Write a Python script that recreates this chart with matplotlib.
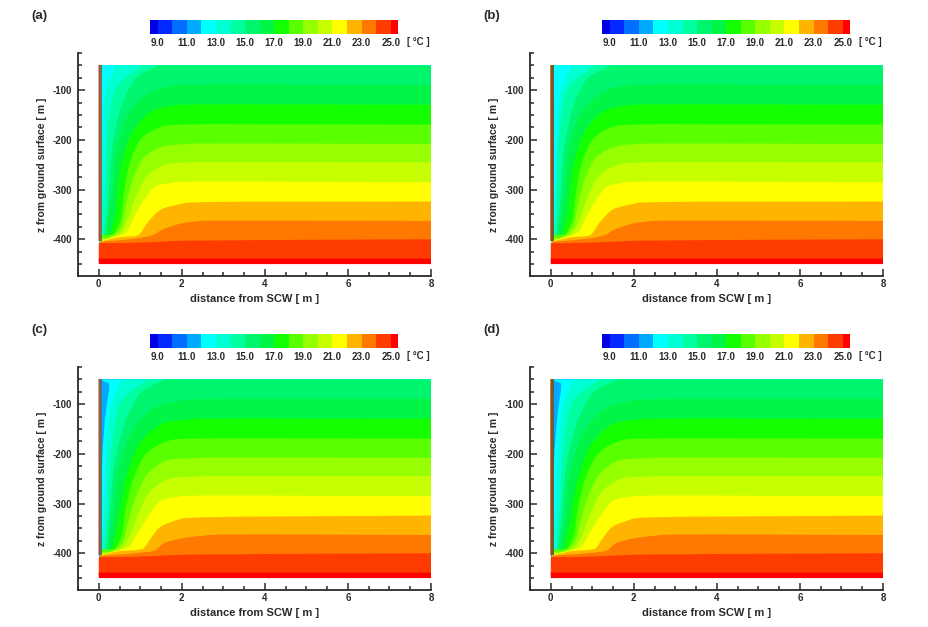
import math
import matplotlib
matplotlib.use("Agg")
import matplotlib.pyplot as plt
from matplotlib.colors import ListedColormap, BoundaryNorm
from matplotlib.patches import PathPatch
from matplotlib.path import Path
from matplotlib.ticker import MultipleLocator

plt.rcParams['font.family'] = ['Liberation Sans', 'DejaVu Sans']
plt.rcParams['font.weight'] = 'bold'
plt.rcParams['axes.unicode_minus'] = False

W, H = 929, 627
panel_labels = ['(a)', '(b)', '(c)', '(d)']
xlabel = 'distance from SCW [ m ]'
ylabel = 'z from ground surface [ m ]'
unit_label = '[ °C ]'
cbar_ticks = [9, 11, 13, 15, 17, 19, 21, 23, 25]
cbar_edges = [8.47, 9, 10, 11, 12, 13, 14, 15, 16, 17, 18, 19, 20, 21, 22, 23, 24, 25, 25.5]
band_colors = ['#0000e6', '#0028ff', '#006eff', '#00aaff', '#00ffff', '#00ffd2',
               '#00ffa0', '#00f56e', '#00f546', '#14ff00', '#5aff00', '#96ff00',
               '#c8ff00', '#ffff00', '#ffb400', '#ff7800', '#ff3c00', '#ff0000']
level_temps = [9, 10, 11, 12, 13, 14, 15, 16, 17, 18, 19, 20, 21, 22, 23, 24, 25]

# contours as (distance, depth)
common = {
    24: [(8, -400), (2, -403), (.88, -407), (0, -408)],
    25: [(8, -439), (0, -439)],
}
group_ab = {
    14: [(1.04, -50), (.42, -95), (.22, -183), (.16, -304), (.09, -398)],
    15: [(1.44, -50), (.9, -75), (.56, -129), (.32, -216), (.22, -337), (.12, -400)],
    16: [(8, -89), (1.84, -90), (1.28, -102), (.76, -142), (.44, -216), (.3, -317), (.18, -398)],
    17: [(8, -129), (1.84, -130), (1.28, -142), (.82, -183), (.54, -250), (.4, -351), (.26, -394)],
    18: [(8, -169), (2, -169), (1.52, -173), (1.04, -196), (.76, -243), (.6, -310), (.52, -364), (.36, -391)],
    19: [(8, -208), (2.08, -208), (1.52, -214), (1.08, -236), (.8, -284), (.64, -337), (.52, -378), (.24, -398)],
    20: [(8, -245), (2.24, -245), (1.6, -250), (1.16, -273), (.88, -317), (.68, -364), (.52, -388), (.2, -400)],
    21: [(8, -285), (1.84, -285), (1.36, -294), (1.12, -317), (.84, -357), (.68, -384), (.07, -403)],
    22: [(8, -324), (2.08, -327), (1.48, -341), (1.16, -368), (.96, -391), (.48, -396), (.07, -404)],
    23: [(8, -363), (2.48, -363), (2, -368), (1.52, -381), (1.32, -391), (.96, -398), (.07, -405)],
}
group_cd = {
    14: [(1.2, -50), (.56, -90), (.32, -180), (.22, -300), (.13, -398)],
    15: [(1.6, -50), (1.04, -75), (.66, -130), (.38, -220), (.25, -340), (.16, -400)],
    16: [(8, -89), (2.1, -91), (1.4, -105), (.86, -145), (.5, -225), (.34, -325), (.22, -398)],
    17: [(8, -129), (2.2, -130), (1.5, -140), (.98, -180), (.64, -255), (.44, -350), (.3, -396)],
    18: [(8, -169), (2.4, -169), (1.7, -173), (1.16, -198), (.84, -248), (.64, -315), (.55, -366), (.4, -392)],
    19: [(8, -208), (2.4, -208), (1.6, -214), (1.2, -238), (.9, -285), (.7, -340), (.56, -380), (.28, -398)],
    20: [(8, -245), (2.5, -245), (1.7, -250), (1.24, -275), (.96, -320), (.74, -366), (.58, -388), (.2, -400)],
    21: [(8, -285), (2, -285), (1.5, -294), (1.24, -320), (.92, -362), (.74, -386), (.07, -403)],
    22: [(8, -324), (2, -330), (1.48, -347), (1.24, -371), (1.08, -390), (.48, -396), (.07, -404)],
    23: [(8, -363), (2.7, -363), (2, -370), (1.56, -380), (1.36, -394), (1, -399), (.07, -405)],
}
cold_13 = [
    [(.4, -50), (.16, -102), (.1, -216), (.07, -391)],
    [(.5, -50), (.24, -102), (.14, -216), (.08, -391)],
    [(.56, -50), (.3, -100), (.18, -200), (.12, -320), (.07, -398)],
    [(.56, -50), (.3, -100), (.18, -200), (.12, -320), (.07, -398)],
]
cold_12 = [
    None,
    None,
    [(.07, -50), (.07, -52), (.24, -58), (.17, -115), (.1, -183), (.07, -240), (.07, -403)],
    [(.07, -50), (.07, -52), (.24, -58), (.17, -115), (.1, -183), (.07, -240), (.07, -403)],
]
well_colors = [('#e8a070', '#7d6a5a'), ('#d98020', '#6e5a3c'),
               ('#e8a070', '#6b6a6a'), ('#d98020', '#6e5a3c')]
well_depth = [-50, -403]
field_top, field_bottom, field_left, field_right = -50, -450, 0, 8
PX_X, PX_Z = 41.6, 0.496  # pixels per data unit, used to round contour corners evenly


def rect(l, t, r, b):
    return [l / W, 1 - b / H, (r - l) / W, (b - t) / H]


def color_of(temp):
    return band_colors[level_temps.index(temp) + 1]


def smooth_path(pts, closing):
    """Closed path: a rounded curve through pts, then straight lines through closing."""
    n = len(pts)
    scr = [(p[0] * PX_X, p[1] * PX_Z) for p in pts]
    chords = [math.hypot(scr[i + 1][0] - scr[i][0], scr[i + 1][1] - scr[i][1]) for i in range(n - 1)]
    tang = []
    for i in range(n):
        if i == 0 or i == n - 1:
            j = 0 if i == 0 else n - 2
            dx, dy = scr[j + 1][0] - scr[j][0], scr[j + 1][1] - scr[j][1]
        else:
            d1, d2 = chords[i - 1], chords[i]
            dx = (scr[i][0] - scr[i - 1][0]) / d1 * d2 + (scr[i + 1][0] - scr[i][0]) / d2 * d1
            dy = (scr[i][1] - scr[i - 1][1]) / d1 * d2 + (scr[i + 1][1] - scr[i][1]) / d2 * d1
        ln = math.hypot(dx, dy) or 1
        tang.append((dx / ln, dy / ln))
    verts = [pts[0]]
    codes = [Path.MOVETO]
    for i in range(n - 1):
        h1 = min(chords[i], chords[i - 1] if i > 0 else chords[i]) / 3
        h2 = min(chords[i], chords[i + 1] if i < n - 2 else chords[i]) / 3
        c1 = ((scr[i][0] + tang[i][0] * h1) / PX_X, (scr[i][1] + tang[i][1] * h1) / PX_Z)
        c2 = ((scr[i + 1][0] - tang[i + 1][0] * h2) / PX_X, (scr[i + 1][1] - tang[i + 1][1] * h2) / PX_Z)
        verts += [c1, c2, pts[i + 1]]
        codes += [Path.CURVE4] * 3
    for c in closing:
        verts.append(c)
        codes.append(Path.LINETO)
    verts.append(pts[0])
    codes.append(Path.CLOSEPOLY)
    return Path(verts, codes)


fig = plt.figure(figsize=(W / 100, H / 100), dpi=100, facecolor='white')
dark = '#2a2a2a'
offsets = [(0, 0), (452, 0), (0, 314), (452, 314)]

for i, (dx, dy) in enumerate(offsets):
    ax = fig.add_axes(rect(78 + dx, 53 + dy, 431 + dx, 276 + dy))
    ax.set_xlim(-.5, 8)
    ax.set_ylim(-474, -25)
    base_temp = 11 if cold_12[i] else 12
    ax.fill([field_left, field_right, field_right, field_left],
            [field_top, field_top, field_bottom, field_bottom],
            color=band_colors[level_temps.index(base_temp) + 1], lw=0)
    group = group_ab if i < 2 else group_cd
    contours = {13: cold_13[i], **group, **common}
    if cold_12[i]:
        contours[12] = cold_12[i]
    for temp in sorted(contours):
        pts = contours[temp]
        # hidden closing edges keep stacked antialiased bands from tinting the border
        low = field_bottom if temp == 25 else -445
        left = field_left if temp >= 24 else .03
        right = field_right
        closing = [(left, pts[-1][1]), (left, low), (right, low), (right, pts[0][1])]
        ax.add_patch(PathPatch(smooth_path(pts, closing), facecolor=color_of(temp), lw=0))
    ax.fill_betweenx(well_depth, -.03, .015, color=well_colors[i][0], lw=0)
    ax.fill_betweenx(well_depth, .015, .07, color=well_colors[i][1], lw=0)

    for s in ('top', 'right'):
        ax.spines[s].set_visible(False)
    for s in ('left', 'bottom'):
        ax.spines[s].set_linewidth(1.3)
        ax.spines[s].set_color(dark)
    ax.xaxis.set_major_locator(MultipleLocator(2))
    ax.xaxis.set_minor_locator(MultipleLocator(.5))
    ax.set_yticks([-400, -300, -200, -100])
    ax.yaxis.set_minor_locator(MultipleLocator(25))
    ax.tick_params(which='major', direction='in', length=5, width=1.1, color=dark,
                   labelsize=7, labelcolor=dark)
    ax.tick_params(axis='x', which='major', pad=2)
    ax.tick_params(axis='y', which='major', pad=4)
    ax.tick_params(which='minor', direction='in', length=3, width=1.1, color=dark)
    ax.set_xlabel(xlabel, fontsize=8, fontweight='bold', color=dark, labelpad=3.5)
    ax.set_ylabel(ylabel, fontsize=7.5, fontweight='bold', color=dark, labelpad=4)

    fig.text((31 + dx) / W, 1 - (16 + dy) / H, panel_labels[i], fontsize=9.5,
             fontweight='bold', color=dark, va='center')

    cax = fig.add_axes(rect(150 + dx, 20 + dy, 398 + dx, 34 + dy))
    cmap = ListedColormap(band_colors)
    norm = BoundaryNorm(cbar_edges, cmap.N)
    cax.pcolormesh(cbar_edges, [0, 1], [[(a + b) / 2 for a, b in zip(cbar_edges[:-1], cbar_edges[1:])]],
                   cmap=cmap, norm=norm)
    cax.set_xlim(cbar_edges[0], cbar_edges[-1])
    cax.set_yticks([])
    cax.set_xticks(cbar_ticks)
    cax.set_xticklabels([f'{t:.1f}' for t in cbar_ticks])
    cax.tick_params(axis='x', length=0, labelsize=7, labelcolor=dark, pad=3)
    for s in cax.spines.values():
        s.set_visible(False)
    fig.text((407 + dx) / W, 1 - (42 + dy) / H, unit_label, fontsize=7,
             fontweight='bold', color=dark, va='center')

fig.savefig('out.png', dpi=100, facecolor='white')
